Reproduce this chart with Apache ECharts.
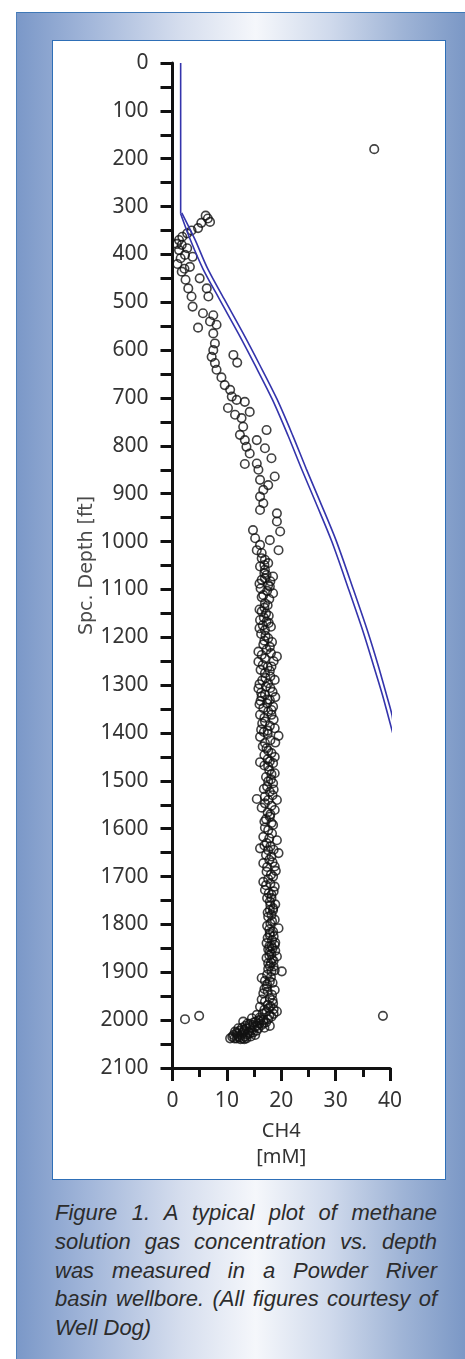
<!DOCTYPE html>
<html><head><meta charset="utf-8">
<script src="https://cdn.jsdelivr.net/npm/echarts@6/dist/echarts.min.js"></script>
<style>
html,body{margin:0;padding:0;width:465px;height:1359px;overflow:hidden;background:#fff;}
#panel{position:absolute;left:16px;top:12px;width:460px;height:1360px;box-sizing:border-box;
 background:linear-gradient(to right,#7b98c8 0%,#a3b7da 16%,#d6deee 36%,#f5f7fb 52%,#d0daec 68%,#9fb4d6 84%,#7593c3 100%);
 border-top:1.5px solid #3f78b6;border-left:1.5px solid #4f80bb;}
#box{position:absolute;left:52px;top:40px;width:394px;height:1140px;box-sizing:border-box;background:#fff;border:1.5px solid #2e6fb7;}
#caption{position:absolute;left:55px;top:1199px;width:382px;font-family:"Liberation Sans",Arial,sans-serif;font-style:italic;font-size:22px;line-height:28.8px;color:#2c2c2c;}
#caption div{text-align:justify;text-align-last:justify;}
#caption div.last{text-align-last:left;}
#chart{position:absolute;left:0;top:0;width:465px;height:1359px;}
</style></head>
<body>
<div id="panel"></div>
<div id="box"></div>
<div id="caption">
<div>Figure 1. A typical plot of methane</div>
<div>solution gas concentration vs. depth</div>
<div>was measured in a Powder River</div>
<div>basin wellbore. (All figures courtesy of</div>
<div class="last">Well Dog)</div>
</div>
<div id="chart"></div>
<script>
// ---- data (CH4 [mM], depth [ft]) ----
const xTicks = [0, 10, 20, 30, 40];
const depthTicks = [0,100,200,300,400,500,600,700,800,900,1000,1100,1200,1300,1400,1500,1600,1700,1800,1900,2000,2100];

const samplesShallow = [
 [37.1,180],
 [6.1,319],[6.5,325],[6.9,332],[5.3,334],[4.7,345],[3.5,350],[2.7,356],[1.8,363],[1.2,370],[0.8,378],[1.7,380],
 [2.7,387],[1.2,391],[2.3,401],[3.7,405],[1.5,408],[0.9,420],[3.2,426],[2.2,430],[1.7,436],[5.0,450],[2.4,453],
 [6.3,471],[2.9,471],[6.6,488],[3.5,488],[3.7,509],[5.6,523],[7.5,527],[6.9,540],[8.1,547],[4.7,553],[7.5,565],
 [7.8,586],[7.5,600],[11.2,610],[7.2,614],[11.9,626],[7.8,627],[8.1,641],[9.0,657],[9.6,673],[10.6,683],[10.9,697],
 [11.8,704],[13.3,708],[10.2,721],[14.2,729],[11.5,735],[12.7,742],[13.0,760],[17.3,767],[12.4,777],[13.3,788],
 [15.5,788],[13.6,802],[17.0,805],[14.2,816],[18.2,826],[15.5,837],[13.3,838],[15.8,850],[18.8,864],[16.1,871],
 [17.6,882],[16.7,892],[16.1,906],[16.7,920],[16.1,934],[19.2,941],[19.2,958],[14.8,976],[19.8,979],[15.2,993],
 [17.9,997],[16.1,1007],[19.5,1018],[15.5,1018],[16.4,1024],[16.4,1035],[17.0,1038]
];
const samplesMiddle = [
 [17.6,1045],[16.9,1049],[16.1,1052],[17.0,1059],[16.9,1066],[17.3,1070],[18.5,1073],[17.0,1077],[16.4,1080],[18.0,1083],
 [16.0,1088],[17.6,1091],[17.9,1094],[16.2,1098],[17.4,1103],[18.5,1108],[16.7,1112],[16.4,1116],[17.8,1120],[17.0,1129],
 [17.5,1133],[16.9,1138],[16.0,1142],[16.4,1146],[17.2,1150],[17.7,1155],[16.8,1159],[16.1,1164],[17.3,1167],[17.7,1170],
 [16.6,1175],[18.1,1178],[16.0,1181],[17.0,1185],[16.3,1193],[17.1,1197],[17.6,1202],[16.9,1207],[18.3,1210],[16.7,1215],
 [17.9,1220],[17.3,1226],[15.8,1230],[18.1,1233],[16.4,1237],[19.2,1240],[17.0,1244],[18.6,1250],[15.8,1251],[16.6,1258],
 [18.2,1261],[17.5,1262],[16.2,1268],[17.9,1270],[17.0,1275],[18.0,1282],[17.1,1285],[18.8,1289],[16.5,1290],[17.6,1296],
 [16.0,1298],[17.2,1303],[18.0,1306],[15.8,1307],[18.4,1314],[16.3,1316],[17.0,1320],[16.4,1324],[18.9,1325],[17.5,1330],
 [17.9,1331],[16.2,1333],[17.4,1338],[16.0,1340],[18.5,1345],[16.7,1348],[18.2,1352],[17.6,1355],[16.1,1362],[18.2,1362],
 [16.9,1368],[18.6,1372],[17.0,1376],[16.5,1380],[17.9,1385],[18.8,1390],[16.3,1393],[17.5,1395],[16.8,1398],
 [17.5,1402],[19.5,1406],[16.1,1408],[18.0,1415],[18.9,1420],[17.0,1421],[16.6,1428],[17.3,1432],[17.6,1437],[18.2,1442],
 [16.9,1446],[18.8,1450],[17.5,1455],[17.9,1459],[16.1,1461],[18.5,1463],[16.9,1468],[17.6,1470],[17.8,1478],[18.8,1484],
 [18.2,1486],[17.2,1492],[18.1,1497],[17.6,1501],[18.5,1505],[17.4,1512],[16.8,1517],[18.6,1518],[17.9,1523],[18.4,1530],
 [17.0,1533],[15.5,1538],[19.2,1540],[17.6,1540],[17.0,1547],[18.2,1552],[16.4,1556],[18.8,1561],[17.5,1566],[18.0,1570],
 [17.9,1575],[17.2,1580],[16.9,1585],[18.2,1588],[18.5,1592],[17.0,1598],[17.6,1603],[18.3,1610],[16.7,1617],[17.8,1620],
 [19.2,1624],[17.3,1630],[16.9,1635],[18.0,1637],[16.1,1641],[18.6,1644],[17.6,1645],[19.5,1651],[17.2,1655],[18.2,1658],
 [17.8,1665],[18.4,1670],[16.7,1672],[18.8,1679],[17.4,1680],[19.0,1688],[17.3,1690],[18.1,1696],[18.5,1700],[17.6,1705],
 [16.7,1711],[18.0,1715],[17.2,1718],[18.8,1721],[17.0,1728],[18.6,1731],[17.7,1735],[18.2,1738],[17.4,1745],[18.2,1745],
 [17.9,1752],[18.9,1758]
];
const samplesDeep = [
 [18.0,1760],[18.5,1766],[18.5,1770],[17.9,1770],[17.5,1775],[18.2,1780],[17.6,1784],[18.8,1790],[18.3,1793],[18.0,1798],
 [17.4,1803],[19.5,1808],[17.8,1810],[18.5,1815],[17.9,1818],[17.9,1822],[18.6,1825],[17.5,1828],[18.3,1833],[18.9,1838],
 [17.3,1839],[18.8,1843],[18.2,1845],[17.8,1846],[18.4,1850],[17.6,1852],[18.9,1855],[17.9,1857],[18.2,1862],[17.8,1865],
 [19.2,1867],[17.3,1870],[18.3,1873],[18.6,1876],[18.1,1880],[17.6,1881],[17.9,1887],[18.6,1888],[17.6,1893],[18.8,1896],
 [20.1,1898],[18.2,1898],[17.4,1905],[18.1,1910],[16.4,1912],[17.0,1918],[17.9,1919],[18.4,1922],[17.4,1925],[17.3,1930],
 [16.9,1935],[18.8,1937],[17.5,1940],[16.7,1944],[18.3,1947],[17.9,1954],[16.4,1957],[18.4,1958],[17.0,1961],[18.5,1965],
 [17.5,1968],[18.0,1971],[16.1,1972],[17.7,1975],[18.6,1977],[16.9,1978],[19.2,1982],[17.3,1982],[16.6,1986],[18.6,1987],
 [15.5,1989],[17.8,1990],[18.2,1993],[16.0,1995],[14.6,1996],[16.2,1998],[17.6,1998],[16.7,2000],[15.8,2001],[13.0,2003],
 [15.3,2003],[17.2,2005],[14.9,2005],[16.8,2006],[16.0,2007],[13.8,2007],[14.2,2008],[14.8,2010],[16.4,2010],[13.4,2012],
 [15.6,2012],[17.9,2012],[15.1,2014],[16.9,2016],[12.8,2016],[14.3,2016],[13.6,2017],[12.1,2017],[15.8,2017],[13.2,2020],
 [14.6,2021],[12.4,2022],[15.5,2022],[11.5,2024],[13.1,2024],[14.0,2025],[11.8,2026],[14.8,2026],[12.9,2027],[14.2,2028],
 [11.9,2029],[13.8,2030],[12.7,2031],[15.2,2031],[11.2,2031],[12.0,2033],[13.4,2034],[14.4,2034],[11.0,2035],[12.3,2036],
 [10.6,2038],[11.8,2038],[12.9,2038],[13.6,2038],[11.4,2038],[12.5,2040],[13.2,2040],
 [2.3,1998],[4.9,1991],[38.7,1991]
];
// modelled saturation curve (drawn as a double line)
const modelVertical = [[1.5,0],[1.5,315]];
const modelInner = [[1.5,315],[3.3,370],[5.6,430],[8.7,495],[12.1,565],[15.2,632],[18.4,704],[21.3,780],[23.8,850],[26.4,920],[29.3,1000],[32.4,1100],[35.1,1190],[37.0,1260],[38.6,1320],[39.7,1366],[40.5,1400]];
const modelOuter = [[1.7,313],[4.1,368],[6.4,428],[9.5,493],[12.9,563],[16.0,630],[19.2,702],[22.1,778],[24.6,848],[27.2,918],[30.1,998],[33.2,1098],[35.9,1188],[37.8,1258],[39.3,1318],[40.4,1364],[40.6,1390]];

const chart = echarts.init(document.getElementById('chart'), null, {renderer:'canvas'});
const ink = '#111';
const lineBlue = '#3434ac';
const lineSeries = (d) => ({type:'line', data:d, smooth:0.3, clip:false, showSymbol:false, symbol:'none', lineStyle:{color:lineBlue, width:1.6}, z:3});
const scatterSeries = (d) => ({type:'scatter', data:d, symbol:'circle', symbolSize:8.5, clip:false,
  itemStyle:{color:'rgba(0,0,0,0)', borderColor:ink, borderWidth:1.6}, z:2});

chart.setOption({
  backgroundColor:'transparent',
  animation:false,
  grid:{left:172.5, right:75, top:63, bottom:291, containLabel:false},
  xAxis:{
    type:'value', min:0, max:40, interval:10,
    axisLine:{show:true, onZero:false, lineStyle:{color:ink, width:3}},
    axisTick:{show:true, length:13, lineStyle:{color:ink, width:3}},
    minorTick:{show:true, splitNumber:2, length:9, lineStyle:{color:ink, width:3}},
    splitLine:{show:false}, minorSplitLine:{show:false},
    axisLabel:{color:'#333', fontSize:21, margin:23, fontFamily:'Noto Sans',
      formatter:(v)=> xTicks.includes(v) ? String(v) : ''},
    name:'CH4\n[mM]', nameLocation:'middle', nameGap:50,
    nameTextStyle:{color:'#333', fontSize:20, lineHeight:26, fontFamily:'Noto Sans'}
  },
  yAxis:{
    type:'value', min:0, max:2100, interval:100, inverse:true,
    axisLine:{show:true, onZero:false, lineStyle:{color:ink, width:3}},
    axisTick:{show:true, length:12, lineStyle:{color:ink, width:3}},
    minorTick:{show:true, splitNumber:2, length:12, lineStyle:{color:ink, width:3}},
    splitLine:{show:false}, minorSplitLine:{show:false},
    axisLabel:{color:'#333', fontSize:21, margin:24, fontFamily:'Noto Sans',
      formatter:(v)=> depthTicks.includes(v) ? String(v) : ''},
    name:'Spc. Depth [ft]', nameLocation:'middle', nameGap:76, nameRotate:90,
    nameTextStyle:{color:'#4a4a4a', fontSize:19, fontFamily:'DejaVu Sans'}
  },
  series:[
    lineSeries(modelVertical), lineSeries(modelInner), lineSeries(modelOuter),
    scatterSeries(samplesShallow), scatterSeries(samplesMiddle), scatterSeries(samplesDeep)
  ]
});
</script>
</body></html>
